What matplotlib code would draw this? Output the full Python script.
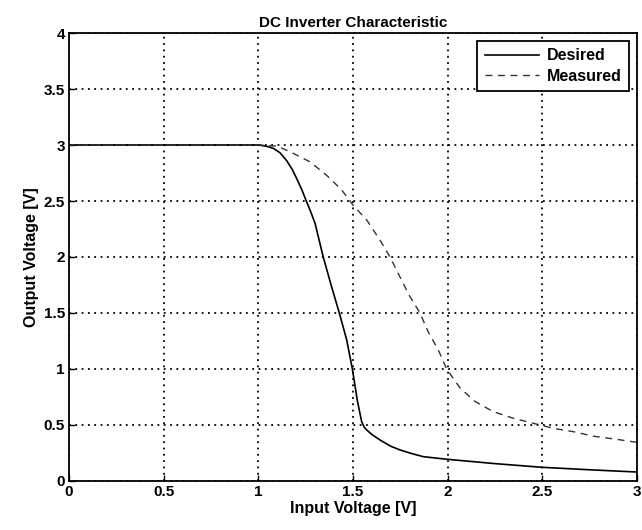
import matplotlib.pyplot as plt

# --- data ---
x_desired = [0, 0.5, 1.0, 1.04, 1.08, 1.115, 1.15, 1.18, 1.203, 1.23, 1.256, 1.28, 1.30,
             1.343, 1.388, 1.428, 1.467, 1.497, 1.523, 1.546, 1.56, 1.573, 1.60, 1.643,
             1.70, 1.749, 1.81, 1.872, 1.995, 2.25, 2.5, 2.75, 3.0]
y_desired = [3.0, 3.0, 3.0, 2.99, 2.97, 2.93, 2.86, 2.78, 2.70, 2.60, 2.49, 2.39, 2.30,
             2.0, 1.73, 1.50, 1.26, 1.0, 0.72, 0.53, 0.48, 0.455, 0.415, 0.366,
             0.31, 0.277, 0.245, 0.217, 0.194, 0.155, 0.122, 0.10, 0.08]

x_measured = [0, 0.5, 1.0, 1.1, 1.167, 1.273, 1.361, 1.44, 1.502, 1.573, 1.643, 1.696,
              1.749, 1.80, 1.854, 1.898, 1.951, 1.995, 2.066, 2.145, 2.24, 2.347,
              2.453, 2.559, 2.665, 2.77, 2.893, 3.0]
y_measured = [3.0, 3.0, 3.0, 2.99, 2.94, 2.85, 2.73, 2.60, 2.46, 2.33, 2.15, 2.0,
              1.82, 1.65, 1.50, 1.33, 1.17, 1.0, 0.83, 0.71, 0.62, 0.56,
              0.515, 0.47, 0.44, 0.40, 0.372, 0.345]

plt.rcParams['font.family'] = ['Liberation Sans', 'DejaVu Sans']

fig = plt.figure(figsize=(6.42, 5.30), dpi=100)
ax = fig.add_axes([0.1075, 0.0925, 0.8845, 0.8452])

ax.plot(x_desired, y_desired, color="black", lw=1.2, label="Desired")
ax.plot(x_measured, y_measured, color="#333333", lw=1.0, ls=(0, (5, 4)), label="Measured")

ax.set_xlim(0, 3)
ax.set_ylim(0, 4)
ax.set_xticks([0, 0.5, 1, 1.5, 2, 2.5, 3])
ax.set_xticklabels(["0", "0.5", "1", "1.5", "2", "2.5", "3"])
ax.set_yticks([0, 0.5, 1, 1.5, 2, 2.5, 3, 3.5, 4])
ax.set_yticklabels(["0", "0.5", "1", "1.5", "2", "2.5", "3", "3.5", "4"])
ax.tick_params(direction="in", length=4, width=1, labelsize=11, pad=3)
for lab in ax.get_xticklabels() + ax.get_yticklabels():
    lab.set_fontweight("bold")
ax.grid(True, color="black", ls=(0, (1, 2.5)), lw=1.3)
for s in ax.spines.values():
    s.set_linewidth(1.3)

ax.set_title("DC Inverter Characteristic", fontsize=11, fontweight="bold", pad=4)
ax.set_xlabel("Input Voltage [V]", fontsize=11.5, fontweight="bold", labelpad=1)
ax.set_ylabel("Output Voltage [V]", fontsize=11.5, fontweight="bold", labelpad=3)

leg = ax.legend(loc="upper right", fancybox=False, framealpha=1, edgecolor="black",
                prop={"size": 11.5, "weight": "bold"}, borderaxespad=0.5,
                handlelength=3.4, borderpad=0.45, labelspacing=0.35, handletextpad=0.5)
leg.get_frame().set_linewidth(1.3)

fig.savefig("out.png", dpi=100)
